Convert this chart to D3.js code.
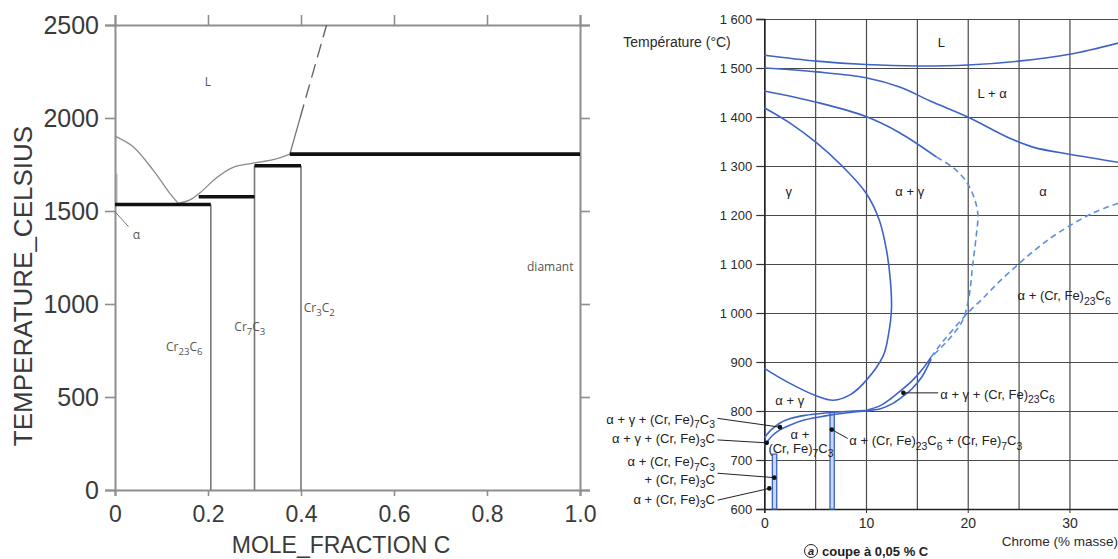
<html>
<head>
<script src="https://d3js.org/d3.v7.min.js"></script>
<style>body { margin: 0; background: #fff; }</style>
</head>
<body>
<script>
// ---------- left diagram : Cr - C, mole fraction ----------
const moleTicks = [0, 0.2, 0.4, 0.6, 0.8, 1.0];
const celsiusTicks = [0, 500, 1000, 1500, 2000, 2500];
const liqCr = [[0, 1903], [0.039, 1846], [0.082, 1720], [0.118, 1595], [0.136, 1541]];
const liqCarbides = [[0.136, 1541], [0.16, 1558], [0.183, 1598], [0.219, 1680], [0.254, 1735], [0.297, 1757], [0.34, 1776], [0.376, 1806]];
const liqGraphite = [[0.376, 1806], [0.398, 2000]];
const liqGraphiteDashed = [[0.398, 2000], [0.455, 2500]];
const invariants = [[0, 0.206, 1535], [0.18, 0.30, 1577], [0.30, 0.40, 1743], [0.376, 1.0, 1806]];
const compounds = [[0.206, 1535], [0.30, 1743], [0.40, 1743]];
const alphaSolvus = [[0.004, 1535], [0.004, 1700]];
const alphaLeader = [[0, 1496], [0.029, 1416]];
const leftLabels = [
  { t: "L", x: 0.2, y: 2170, anchor: "middle" },
  { t: "α", x: 0.046, y: 1350, anchor: "middle" },
  { t: "Cr_23C_6", x: 0.149, y: 745, anchor: "middle" },
  { t: "Cr_7C_3", x: 0.29, y: 855, anchor: "middle" },
  { t: "Cr_3C_2", x: 0.406, y: 955, anchor: "start" },
  { t: "diamant", x: 0.986, y: 1175, anchor: "end" }
];

// ---------- right diagram : Fe-Cr-C, section at 0.05 % C ----------
const chromeTicks = [0, 10, 20, 30];
const chromeGrid = [0, 5, 10, 15, 20, 25, 30, 35];
const tempTicks = [600, 700, 800, 900, 1000, 1100, 1200, 1300, 1400, 1500, 1600];
const liquidus = [[0, 1526], [5.15, 1514], [10, 1507], [15, 1504], [20, 1506], [25, 1514], [30, 1528], [35, 1552]];
const solidus = [[0, 1500], [5.15, 1492], [10, 1480], [13.3, 1461], [16.6, 1430], [20, 1400], [24.2, 1356], [26.5, 1338], [30, 1324], [35, 1307]];
const alphaGamma = [[0, 1453], [5.15, 1430], [10, 1401], [13.3, 1368], [16.95, 1318]];
const alphaGammaDashed = [[16.95, 1318], [18.6, 1296], [19.9, 1267], [20.7, 1231], [21, 1200], [20.85, 1160], [20.5, 1100], [20.1, 1030], [19.5, 985], [18.5, 955], [17.4, 930], [16.4, 910]];
const gammaLoop = [[0, 1419], [2.5, 1388], [5.15, 1347], [7.5, 1303], [10, 1245], [11.3, 1190], [12, 1130], [12.4, 1065], [12.5, 1007], [12.2, 955], [11.7, 913], [10, 862], [8.5, 834], [6.8, 822], [5.1, 831], [2.2, 860], [0, 887]];
const carbideDashed = [[34.8, 1224], [32.3, 1204], [29, 1165], [27, 1135], [25, 1100], [23, 1062], [21.5, 1030], [20, 1000], [18.5, 965], [17.3, 935], [16.4, 910]];
const triUpper = [[16.4, 910], [15.5, 884], [14.5, 861], [13.5, 843], [12.5, 826], [11.5, 812], [10, 801]];
const triLower = [[16.4, 906], [15.5, 870], [14.5, 845], [13.5, 828], [12.5, 814], [11.5, 805], [10, 800]];
const pairUpper = [[0, 745], [0.5, 758], [1, 767], [1.5, 775], [2.5, 784], [4, 791], [6, 796], [8, 799], [10, 801]];
const pairLower = [[0, 730], [0.3, 738], [0.8, 750], [1.5, 761], [2.5, 771], [4, 782], [6, 790], [8, 796], [10, 800]];
const bands = [[0.79, 1.22, 712], [6.46, 6.88, 798]];
const dots = [[13.67, 837], [6.63, 762], [1.54, 767], [0.24, 735], [0.98, 664], [0.49, 642]];
const leaders = [
  [[13.67, 837], [17.1, 837]],
  [[6.63, 762], [8.2, 744]],
  [[-4.6, 785], [1.54, 767]],
  [[-4.6, 741], [0.24, 735]],
  [[-4.6, 673], [0.98, 664]],
  [[-4.6, 618], [0.49, 642]]
];
const rightLabels = [
  { t: "L", x: 17.4, y: 1554, anchor: "middle" },
  { t: "L + α", x: 22.4, y: 1449, anchor: "middle" },
  { t: "γ", x: 2.4, y: 1249, anchor: "middle" },
  { t: "α + γ", x: 14.3, y: 1249, anchor: "middle" },
  { t: "α", x: 27.4, y: 1249, anchor: "middle" },
  { t: "α + (Cr, Fe)_23C_6", x: 24.9, y: 1036, anchor: "start" },
  { t: "α + γ + (Cr, Fe)_23C_6", x: 17.3, y: 835, anchor: "start" },
  { t: "α + γ", x: 2.5, y: 822, anchor: "middle" },
  { t: "α +", x: 3.5, y: 753, anchor: "middle" },
  { t: "(Cr, Fe)_7C_3", x: 3.6, y: 724, anchor: "middle" },
  { t: "α + (Cr, Fe)_23C_6 + (Cr, Fe)_7C_3", x: 8.36, y: 740, anchor: "start" },
  { t: "α + γ + (Cr, Fe)_7C_3", x: -4.85, y: 783, anchor: "end" },
  { t: "α + γ + (Cr, Fe)_3C", x: -4.85, y: 745, anchor: "end" },
  { t: "α + (Cr, Fe)_7C_3", x: -4.85, y: 697, anchor: "end" },
  { t: "+ (Cr, Fe)_3C", x: -4.85, y: 662, anchor: "end" },
  { t: "α + (Cr, Fe)_3C", x: -4.85, y: 621, anchor: "end" }
];

const width = 1118, height = 559;
const svg = d3.select("body").append("svg")
  .attr("width", width)
  .attr("height", height)
  .style("font-family", "'Liberation Sans', Arial, sans-serif");

// writes "Cr_23C_6" with subscripts
function rich(text, str, size) {
  const parts = str.split(/(_\d+)/).filter(s => s.length);
  let sub = false;
  parts.forEach(p => {
    if (p[0] === "_") {
      text.append("tspan").attr("dy", sub ? 0 : size * 0.32).attr("font-size", size * 0.8).text(p.slice(1));
      sub = true;
    } else {
      text.append("tspan").attr("dy", sub ? -size * 0.32 : 0).text(p);
      sub = false;
    }
  });
}

// ================= left =================
const xL = d3.scaleLinear().domain([0, 1]).range([115, 580]);
const yL = d3.scaleLinear().domain([0, 2500]).range([490, 25]);
const lineL = d3.line().x(d => xL(d[0])).y(d => yL(d[1]));
const curveL = d3.line().x(d => xL(d[0])).y(d => yL(d[1])).curve(d3.curveCatmullRom);

const gl = svg.append("g");

function styleAxis(g, size) {
  g.select(".domain").attr("stroke", "#8e8e8e").attr("stroke-width", 2);
  g.selectAll(".tick line").attr("stroke", "#8e8e8e").attr("stroke-width", 1.6);
  g.selectAll(".tick text").attr("fill", "#3a3a3a").style("font-size", size + "px");
}

gl.append("g").attr("transform", "translate(0,490)")
  .call(d3.axisBottom(xL).tickValues(moleTicks).tickSize(6).tickPadding(10)
    .tickFormat(d => d === 0 ? "0" : d3.format(".1f")(d)))
  .call(g => styleAxis(g, 23));
gl.append("g").attr("transform", "translate(115,0)")
  .call(d3.axisLeft(yL).tickValues(celsiusTicks).tickSize(10).tickPadding(6).tickFormat(d3.format("d")))
  .call(g => styleAxis(g, 25));
gl.append("g").attr("transform", "translate(0,25)")
  .call(d3.axisTop(xL).tickValues(moleTicks).tickSize(10).tickFormat(""))
  .call(g => styleAxis(g, 10));
gl.append("g").attr("transform", "translate(580,0)")
  .call(d3.axisRight(yL).tickValues(celsiusTicks).tickSize(10).tickFormat(""))
  .call(g => styleAxis(g, 10));

gl.append("text")
  .attr("x", 341).attr("y", 553)
  .attr("text-anchor", "middle")
  .attr("fill", "#3a3a3a")
  .style("font-size", "23px")
  .text("MOLE_FRACTION C");

gl.append("text")
  .attr("transform", "translate(32,286) rotate(-90)")
  .attr("text-anchor", "middle")
  .attr("fill", "#3a3a3a")
  .style("font-size", "26px")
  .text("TEMPERATURE_CELSIUS");

// compound lines
gl.selectAll(".compound").data(compounds).join("line")
  .attr("x1", d => xL(d[0])).attr("x2", d => xL(d[0]))
  .attr("y1", d => yL(d[1])).attr("y2", yL(0))
  .attr("stroke", "#777").attr("stroke-width", 1.6);

// liquidus
[liqCr, liqCarbides].forEach(c => gl.append("path").attr("d", curveL(c))
  .attr("fill", "none").attr("stroke", "#8a8a8a").attr("stroke-width", 1.3));
gl.append("path").attr("d", lineL(liqGraphite))
  .attr("fill", "none").attr("stroke", "#777").attr("stroke-width", 1.3);
gl.append("path").attr("d", lineL(liqGraphiteDashed))
  .attr("fill", "none").attr("stroke", "#666").attr("stroke-width", 1.4)
  .attr("stroke-dasharray", "14,7");
gl.append("path").attr("d", lineL(alphaSolvus))
  .attr("fill", "none").attr("stroke", "#999").attr("stroke-width", 1);
gl.append("path").attr("d", lineL(alphaLeader))
  .attr("fill", "none").attr("stroke", "#777").attr("stroke-width", 1);

// invariant reactions
gl.selectAll(".inv").data(invariants).join("line")
  .attr("x1", d => xL(d[0])).attr("x2", d => xL(d[1]))
  .attr("y1", d => yL(d[2])).attr("y2", d => yL(d[2]))
  .attr("stroke", "#111").attr("stroke-width", 3.6);

leftLabels.forEach(l => {
  const t = gl.append("text")
    .attr("x", xL(l.x)).attr("y", yL(l.y))
    .attr("text-anchor", l.anchor)
    .attr("fill", "#555")
    .style("font-family", "'Open Sans', sans-serif")
    .style("font-size", "12px");
  rich(t, l.t, 12);
});

// ================= right =================
const xR = d3.scaleLinear().domain([0, 35]).range([764.3, 1120.3]);
const yR = d3.scaleLinear().domain([600, 1600]).range([509, 19]);
const curveR = d3.line().x(d => xR(d[0])).y(d => yR(d[1])).curve(d3.curveCatmullRom);
const lineR = d3.line().x(d => xR(d[0])).y(d => yR(d[1]));
const gr = svg.append("g");

// grid
gr.append("g").attr("transform", `translate(0,${yR(600)})`)
  .call(d3.axisBottom(xR).tickValues(chromeGrid).tickSize(-(yR(600) - yR(1600))).tickFormat(""))
  .call(g => g.select(".domain").remove())
  .call(g => g.selectAll("line").attr("stroke", "#4a4a4a").attr("stroke-width", 1.2));
gr.append("g").attr("transform", `translate(${xR(0)},0)`)
  .call(d3.axisLeft(yR).tickValues(tempTicks).tickSize(-(width - xR(0))).tickFormat(""))
  .call(g => g.select(".domain").remove())
  .call(g => g.selectAll("line").attr("stroke", "#4a4a4a").attr("stroke-width", 1.2));

// axes
gr.append("g").attr("transform", `translate(${xR(0)},0)`)
  .call(d3.axisLeft(yR).tickValues(tempTicks).tickSize(8).tickPadding(4)
    .tickFormat(d => d3.format(",")(d).replace(",", " ")))
  .call(g => g.select(".domain").attr("stroke", "#222").attr("stroke-width", 1.5))
  .call(g => g.selectAll(".tick line").attr("stroke", "#333").attr("stroke-width", 1.2))
  .call(g => g.selectAll(".tick text").attr("fill", "#2a2a2a").style("font-size", "13px"));
gr.append("g").attr("transform", `translate(0,${yR(600)})`)
  .call(d3.axisBottom(xR).tickValues(chromeTicks).tickSize(4).tickPadding(5))
  .call(g => g.select(".domain").attr("stroke", "#222").attr("stroke-width", 1.5))
  .call(g => g.selectAll(".tick line").attr("stroke", "#333"))
  .call(g => g.selectAll(".tick text").attr("fill", "#2a2a2a").style("font-size", "14px"));

gr.append("text").attr("x", 677).attr("y", 47).attr("text-anchor", "middle")
  .attr("fill", "#2a2a2a").style("font-size", "14px").text("Température (°C)");
gr.append("text").attr("x", 1118).attr("y", 546).attr("text-anchor", "end")
  .attr("fill", "#2a2a2a").style("font-size", "13.5px").text("Chrome (% masse)");
gr.append("circle").attr("cx", 811).attr("cy", 551).attr("r", 6.5)
  .attr("fill", "none").attr("stroke", "#222").attr("stroke-width", 1);
gr.append("text").attr("x", 811).attr("y", 555).attr("text-anchor", "middle")
  .attr("fill", "#222").style("font-size", "11px").style("font-weight", "bold").style("font-style", "italic").text("a");
gr.append("text").attr("x", 822).attr("y", 556)
  .attr("fill", "#222").style("font-size", "13px").style("font-weight", "bold").text("coupe à 0,05 % C");

// carbide bands
bands.forEach(b => {
  gr.append("rect")
    .attr("x", xR(b[0])).attr("width", xR(b[1]) - xR(b[0]))
    .attr("y", yR(b[2])).attr("height", yR(600) - yR(b[2]))
    .attr("fill", "#c9d8f4").attr("stroke", "#3d63c9").attr("stroke-width", 1.3);
});

const blue = "#3d63c9", lightBlue = "#5b8fe0";
[liquidus, solidus, alphaGamma, gammaLoop, triUpper, triLower, pairUpper, pairLower].forEach(c =>
  gr.append("path").attr("d", curveR(c)).attr("fill", "none")
    .attr("stroke", blue).attr("stroke-width", 1.6));
[alphaGammaDashed, carbideDashed].forEach(c =>
  gr.append("path").attr("d", curveR(c)).attr("fill", "none")
    .attr("stroke", lightBlue).attr("stroke-width", 1.6).attr("stroke-dasharray", "6,4"));

// leaders and dots
leaders.forEach(l => gr.append("path").attr("d", lineR(l))
  .attr("stroke", "#222").attr("stroke-width", 1).attr("fill", "none"));
gr.selectAll(".dot").data(dots).join("circle")
  .attr("cx", d => xR(d[0])).attr("cy", d => yR(d[1])).attr("r", 2.3).attr("fill", "#111");

rightLabels.forEach(l => {
  const t = gr.append("text")
    .attr("x", xR(l.x)).attr("y", yR(l.y) + 5)
    .attr("text-anchor", l.anchor)
    .attr("fill", "#222")
    .style("font-size", "13px");
  rich(t, l.t, 13);
});
</script>
</body>
</html>
